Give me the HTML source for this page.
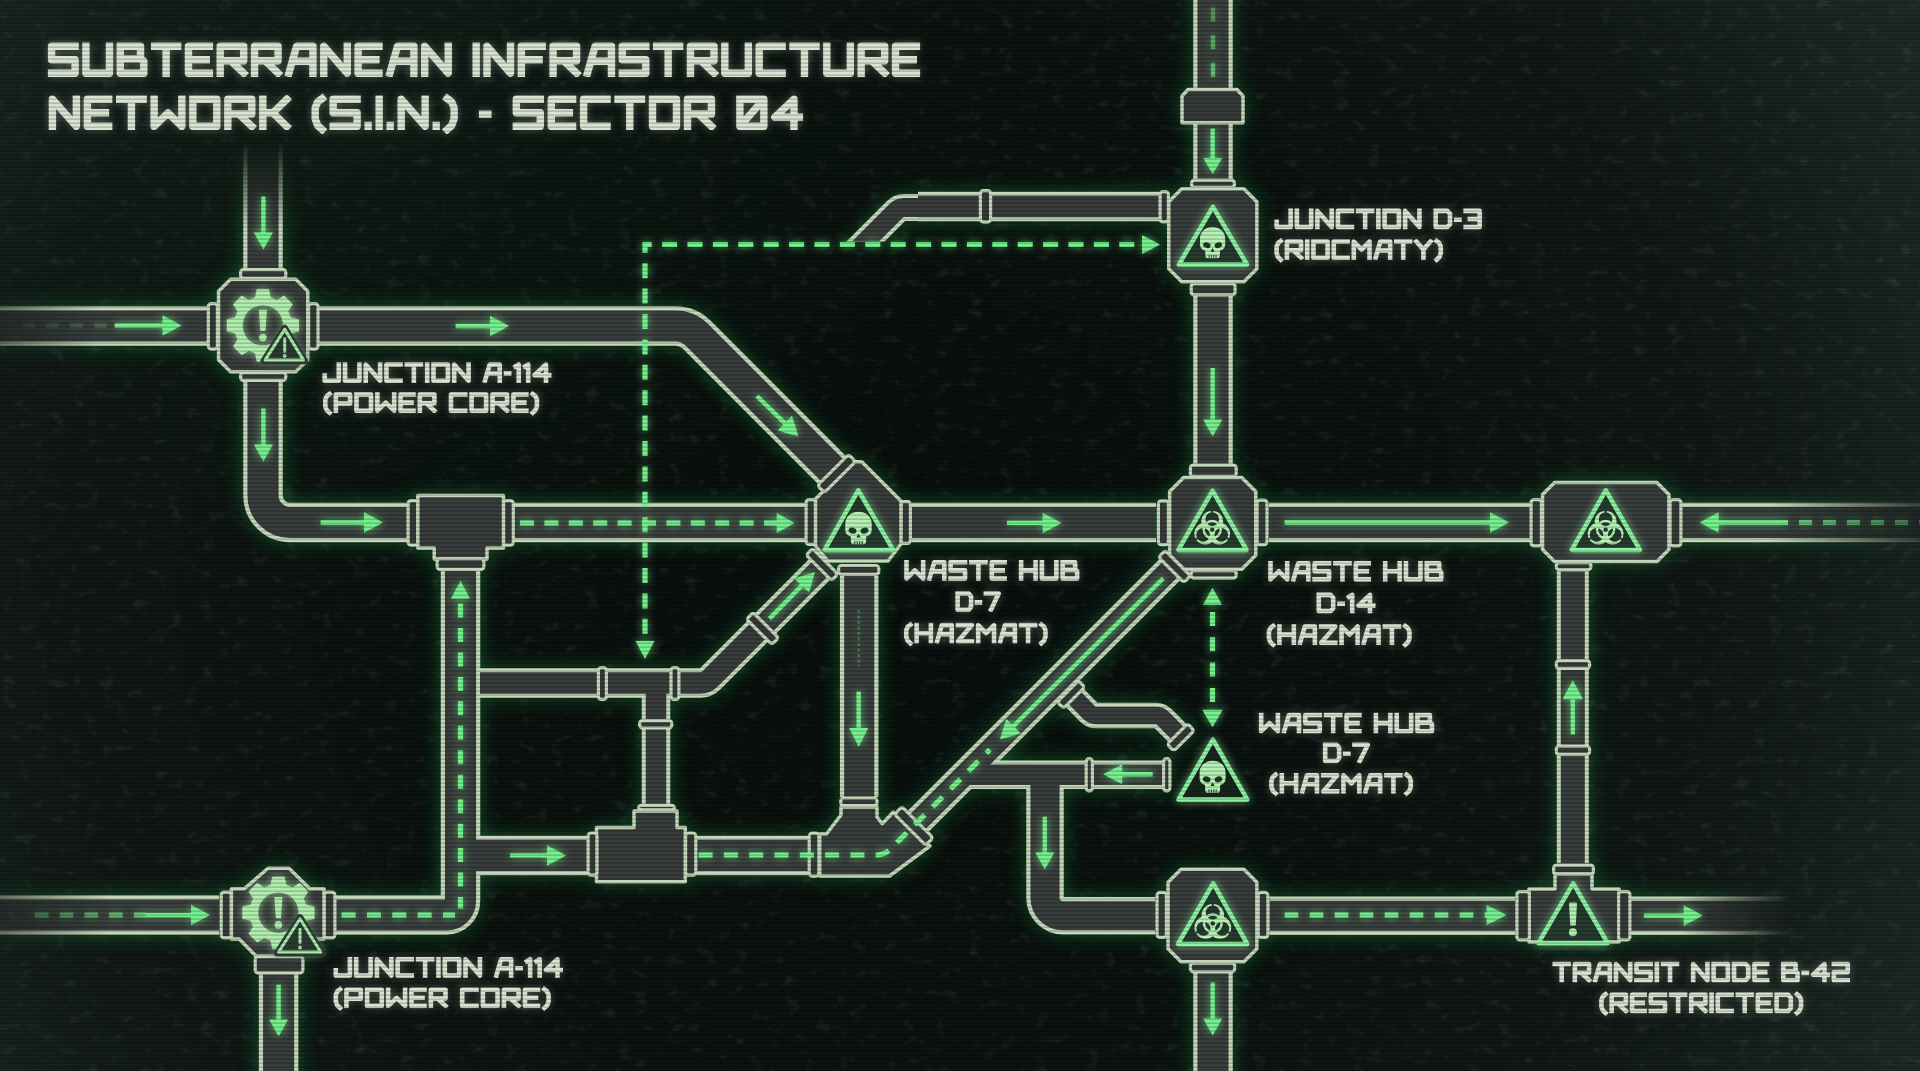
<!DOCTYPE html>
<html><head><meta charset="utf-8"><title>S.I.N. Sector 04</title>
<style>html,body{margin:0;padding:0;background:#0f1613;overflow:hidden;width:1920px;height:1071px}svg{display:block}</style>
</head><body>
<svg width="1920" height="1071" viewBox="0 0 1920 1071">
<defs>
<radialGradient id="bgv" cx="880" cy="560" r="1150" gradientUnits="userSpaceOnUse">
<stop offset="0" stop-color="#090e0c"/><stop offset="0.45" stop-color="#0b120f"/><stop offset="0.75" stop-color="#111916"/><stop offset="1" stop-color="#1e2926"/></radialGradient>
<radialGradient id="tg" cx="420" cy="90" r="520" gradientUnits="userSpaceOnUse"><stop offset="0" stop-color="#1d4a2c" stop-opacity="0.12"/><stop offset="1" stop-color="#1d4a2c" stop-opacity="0"/></radialGradient>
<filter id="pglow" x="-5%" y="-5%" width="110%" height="110%"><feGaussianBlur in="SourceAlpha" stdDeviation="10" result="b"/><feFlood flood-color="#23a84b" flood-opacity="0.42"/><feComposite operator="in" in2="b"/></filter>
<filter id="glow2" x="-20%" y="-20%" width="140%" height="140%"><feGaussianBlur in="SourceGraphic" stdDeviation="4"/></filter>
<filter id="grunge" x="0" y="0" width="100%" height="100%"><feTurbulence type="fractalNoise" baseFrequency="0.06 0.09" numOctaves="3" seed="7"/><feColorMatrix type="matrix" values="0 0 0 0 0.45  0 0 0 0 0.55  0 0 0 0 0.50  0 0 0 3.2 -1.9"/></filter>
<clipPath id="clipTop"><rect x="0" y="0" width="1920" height="241.5"/></clipPath>
<linearGradient id="gl" gradientUnits="userSpaceOnUse" x1="30" y1="0" x2="150" y2="0"><stop offset="0" stop-color="#76ef8e" stop-opacity="0.25"/><stop offset="1" stop-color="#76ef8e" stop-opacity="0.75"/></linearGradient>
<linearGradient id="gr" gradientUnits="userSpaceOnUse" x1="1790" y1="0" x2="1920" y2="0"><stop offset="0" stop-color="#76ef8e" stop-opacity="0.7"/><stop offset="1" stop-color="#76ef8e" stop-opacity="0.3"/></linearGradient>
<linearGradient id="gl2" gradientUnits="userSpaceOnUse" x1="20" y1="0" x2="110" y2="0"><stop offset="0" stop-color="#76ef8e" stop-opacity="0.04"/><stop offset="1" stop-color="#76ef8e" stop-opacity="0.2"/></linearGradient>
<linearGradient id="gt" gradientUnits="userSpaceOnUse" x1="0" y1="0" x2="0" y2="80"><stop offset="0" stop-color="#76ef8e" stop-opacity="0.35"/><stop offset="1" stop-color="#76ef8e" stop-opacity="0.7"/></linearGradient>
<pattern id="scan" width="8" height="4" patternUnits="userSpaceOnUse"><rect width="8" height="1.6" y="2.4" fill="#000"/></pattern>

<linearGradient id="fg0" gradientUnits="userSpaceOnUse" x1="-30" y1="0" x2="100" y2="0"><stop offset="0" stop-color="#000" stop-opacity="0.7"/><stop offset="1" stop-color="#000" stop-opacity="0"/></linearGradient>
<linearGradient id="fg2" gradientUnits="userSpaceOnUse" x1="-30" y1="0" x2="110" y2="0"><stop offset="0" stop-color="#000" stop-opacity="0.7"/><stop offset="1" stop-color="#000" stop-opacity="0"/></linearGradient>
<linearGradient id="fg4" gradientUnits="userSpaceOnUse" x1="0" y1="142" x2="0" y2="228"><stop offset="0" stop-color="#000" stop-opacity="1.0"/><stop offset="1" stop-color="#000" stop-opacity="0"/></linearGradient>
<linearGradient id="fg6" gradientUnits="userSpaceOnUse" x1="1925" y1="0" x2="1770" y2="0"><stop offset="0" stop-color="#000" stop-opacity="0.85"/><stop offset="1" stop-color="#000" stop-opacity="0"/></linearGradient>
<linearGradient id="fg8" gradientUnits="userSpaceOnUse" x1="1792" y1="0" x2="1680" y2="0"><stop offset="0" stop-color="#000" stop-opacity="1.0"/><stop offset="1" stop-color="#000" stop-opacity="0"/></linearGradient>
<clipPath id="tc0"><rect x="318.4" y="361.7" width="237.1" height="21.4"/></clipPath>
<clipPath id="tc1"><rect x="319" y="391.7" width="224.2" height="21.4"/><rect x="321" y="390.2" width="12.8" height="26.8"/><rect x="528.4" y="390.2" width="12.8" height="26.8"/></clipPath>
<clipPath id="tc2"><rect x="1270.4" y="208.1" width="215.5" height="21.4"/></clipPath>
<clipPath id="tc3"><rect x="1270.4" y="238.7" width="176.6" height="21.4"/><rect x="1272.4" y="237.2" width="12.55" height="26.8"/><rect x="1432.45" y="237.2" width="12.55" height="26.8"/></clipPath>
<clipPath id="tc4"><rect x="900.2" y="559.5" width="183.2" height="21.4"/></clipPath>
<clipPath id="tc5"><rect x="951.5" y="590.7" width="53.3" height="21.4"/></clipPath>
<clipPath id="tc6"><rect x="900" y="622.3" width="151.7" height="21.4"/><rect x="902" y="620.8" width="12.63" height="26.8"/><rect x="1037.07" y="620.8" width="12.63" height="26.8"/></clipPath>
<clipPath id="tc7"><rect x="1264.2" y="560.4" width="183.3" height="21.4"/></clipPath>
<clipPath id="tc8"><rect x="1312.5" y="592.1" width="67" height="21.4"/></clipPath>
<clipPath id="tc9"><rect x="1262.7" y="623.7" width="153" height="21.4"/><rect x="1264.7" y="622.2" width="12.71" height="26.8"/><rect x="1400.99" y="622.2" width="12.71" height="26.8"/></clipPath>
<clipPath id="tc10"><rect x="1254.9" y="712.2" width="183.3" height="21.4"/></clipPath>
<clipPath id="tc11"><rect x="1319" y="742" width="55" height="21.4"/></clipPath>
<clipPath id="tc12"><rect x="1265.2" y="772.4" width="151.8" height="21.4"/><rect x="1267.2" y="770.9" width="12.64" height="26.8"/><rect x="1402.36" y="770.9" width="12.64" height="26.8"/></clipPath>
<clipPath id="tc13"><rect x="329.5" y="956.5" width="237.5" height="21.4"/></clipPath>
<clipPath id="tc14"><rect x="329.5" y="986.9" width="225.4" height="21.4"/><rect x="331.5" y="985.4" width="12.85" height="26.8"/><rect x="540.05" y="985.4" width="12.85" height="26.8"/></clipPath>
<clipPath id="tc15"><rect x="1548.5" y="961.2" width="305.5" height="21.4"/></clipPath>
<clipPath id="tc16"><rect x="1595.2" y="992" width="212.1" height="21.4"/><rect x="1597.2" y="990.5" width="12.56" height="26.8"/><rect x="1792.74" y="990.5" width="12.56" height="26.8"/></clipPath>
<clipPath id="tc17"><rect x="44" y="42" width="880" height="35"/></clipPath>
<clipPath id="tc18"><rect x="44.75" y="95.1" width="762.25" height="35"/><rect x="309.55" y="93.6" width="18.21" height="40.4"/><rect x="441.56" y="93.6" width="18.21" height="40.4"/></clipPath>
<mask id="pmask" maskUnits="userSpaceOnUse" x="0" y="0" width="1920" height="1071"><rect width="1920" height="1071" fill="#fff"/><rect x="-30" y="260" width="130" height="132" fill="url(#fg0)"/><rect x="-30" y="850" width="140" height="132" fill="url(#fg2)"/><rect x="215" y="100" width="97" height="130" fill="url(#fg4)"/><rect x="1760" y="460" width="200" height="126" fill="url(#fg6)"/><rect x="1680" y="850" width="220" height="132" fill="url(#fg8)"/></mask>
<g id="gear"><path d="M-7.89 -27.91 L-6.21 -36.07 L6.21 -36.07 L7.89 -27.91 L14.15 -25.31 L21.11 -29.9 L29.9 -21.11 L25.31 -14.15 L27.91 -7.89 L36.07 -6.21 L36.07 6.21 L27.91 7.89 L25.31 14.15 L29.9 21.11 L21.11 29.9 L14.15 25.31 L7.89 27.91 L6.21 36.07 L-6.21 36.07 L-7.89 27.91 L-14.15 25.31 L-21.11 29.9 L-29.9 21.11 L-25.31 14.15 L-27.91 7.89 L-36.07 6.21 L-36.07 -6.21 L-27.91 -7.89 L-25.31 -14.15 L-29.9 -21.11 L-21.11 -29.9 L-14.15 -25.31 Z M20.2 0 A20.2 20.2 0 1 0 -20.2 0 A20.2 20.2 0 1 0 20.2 0 Z" fill="#b2edb0" fill-rule="evenodd"/><path d="M-3.4 -15.1 L3.4 -15.1 L2 5 L-2 5 Z" fill="#b2edb0" stroke="#b2edb0" stroke-width="1.2" stroke-linejoin="round"/><circle cx="0" cy="12.2" r="3.8" fill="#b2edb0"/></g>
<g id="skull"><path d="M-13 12 C-13 4.5 -7 0 0 0 C7 0 13 4.5 13 12 L13 17.5 Q13 22 9.5 23.5 L7.6 24.2 L7.4 30 Q7.2 32 5 32 L-5 32 Q-7.2 32 -7.4 30 L-7.6 24.2 L-9.5 23.5 Q-13 22 -13 17.5 Z" fill="#b6f0b4"/><ellipse cx="-5.9" cy="18.6" rx="3.9" ry="2.9" fill="#233529" transform="rotate(16 -5.9 18.6)"/><ellipse cx="5.9" cy="18.6" rx="3.9" ry="2.9" fill="#233529" transform="rotate(-16 5.9 18.6)"/><path d="M0 21.6 L2.1 25.4 L-2.1 25.4 Z" fill="#233529"/><path d="M-3.6 28.6 V32.2 M-1.2 28.6 V32.2 M1.2 28.6 V32.2 M3.6 28.6 V32.2" stroke="#233529" stroke-width="0.9"/></g>
<mask id="biom" maskUnits="userSpaceOnUse" x="-25" y="-25" width="50" height="50"><circle cx="0" cy="-7.86" r="10.72" fill="#fff"/><circle cx="6.81" cy="3.93" r="10.72" fill="#fff"/><circle cx="-6.81" cy="3.93" r="10.72" fill="#fff"/><circle cx="0" cy="-10.3" r="6.7" fill="#000"/><circle cx="8.92" cy="5.15" r="6.7" fill="#000"/><circle cx="-8.92" cy="5.15" r="6.7" fill="#000"/><rect x="-0.9" y="-20" width="1.8" height="4" fill="#000" transform="rotate(0)"/><rect x="-0.9" y="-20" width="1.8" height="4" fill="#000" transform="rotate(120)"/><rect x="-0.9" y="-20" width="1.8" height="4" fill="#000" transform="rotate(240)"/><circle r="8.4" fill="none" stroke="#fff" stroke-width="2.36"/><circle r="2.15" fill="#000"/></mask>
<g id="bio"><rect x="-22" y="-22" width="44" height="44" fill="#b6f0b4" mask="url(#biom)"/></g>
</defs>
<rect width="1920" height="1071" fill="url(#bgv)"/>
<rect width="1920" height="1071" filter="url(#grunge)" opacity="0.1"/>
<rect width="1920" height="1071" fill="url(#tg)"/>
<g mask="url(#pmask)"><use href="#pipes" filter="url(#pglow)"/>
<g id="pipes">
<g fill="none" stroke="#c4d6bb" stroke-linejoin="round"><path d="M-30 326 L216 326" stroke-width="39.5"/><path d="M263 142 L263 278" stroke-width="39.5"/><path d="M310 326 L675.57 326 A30 30 0 0 1 696.79 334.79 L852 490" stroke-width="39.5"/><path d="M263 373 L263 495.5 A27 27 0 0 0 290 522.5 L806 522.5" stroke-width="39.5"/><path d="M912 522.5 L1156 522.5" stroke-width="39.5"/><path d="M1269 522.5 L1530 522.5" stroke-width="39.5"/><path d="M1682 522.5 L1950 522.5" stroke-width="39.5"/><path d="M1213 -20 L1213 180" stroke-width="39.5"/><path d="M1213 296 L1213 465" stroke-width="39.5"/><path d="M460.5 560 L460.5 901 A14 14 0 0 1 446.5 915 L336 915" stroke-width="39.5"/><path d="M-30 915 L219 915" stroke-width="39.5"/><path d="M278.6 974 L278.6 1100" stroke-width="39.5"/><path d="M460 855.4 L820 855.4" stroke-width="39.5"/><path d="M859.2 576 L859.2 797" stroke-width="38.5"/><path d="M1045 775 L1045 897.8 A18 18 0 0 0 1063 915.8 L1155 915.8" stroke-width="37.5"/><path d="M1213 973 L1213 1100" stroke-width="39.5"/><path d="M1269.5 915.8 L1515 915.8" stroke-width="38.5"/><path d="M1631 915.8 L1792 915.8" stroke-width="38.5"/><path d="M1572.8 571 L1572.8 863" stroke-width="32"/><path d="M1160 206.6 L918 206.6" stroke-width="29.5"/><path d="M920 207.5 L904.47 207.5 A12 12 0 0 0 895.99 211.01 L861.5 245.5 A0 0 0 0 0 861.5 245.5 L851.5 255.5" stroke-width="27" clip-path="url(#clipTop)"/><path d="M480 683 L700.2 683 A14 14 0 0 0 710.1 678.9 L824 565" stroke-width="29.5"/><path d="M656 683 L656 812" stroke-width="28.5"/><path d="M1176 563.5 L884.5 855" stroke-width="29.5"/><path d="M966 774.8 L1171 774.8" stroke-width="28.5"/><path d="M1068 691 L1089.06 712.5 A10 10 0 0 0 1096.2 715.5 L1155.86 715.5 A10 10 0 0 1 1162.93 718.43 L1182 737.5" stroke-width="25.5"/></g>
<g fill="none" stroke="#383d3b" stroke-linejoin="round"><path d="M-30 326 L216 326" stroke-width="31.1"/><path d="M263 142 L263 278" stroke-width="31.1"/><path d="M310 326 L675.57 326 A30 30 0 0 1 696.79 334.79 L852 490" stroke-width="31.1"/><path d="M263 373 L263 495.5 A27 27 0 0 0 290 522.5 L806 522.5" stroke-width="31.1"/><path d="M912 522.5 L1156 522.5" stroke-width="31.1"/><path d="M1269 522.5 L1530 522.5" stroke-width="31.1"/><path d="M1682 522.5 L1950 522.5" stroke-width="31.1"/><path d="M1213 -20 L1213 180" stroke-width="31.1"/><path d="M1213 296 L1213 465" stroke-width="31.1"/><path d="M460.5 560 L460.5 901 A14 14 0 0 1 446.5 915 L336 915" stroke-width="31.1"/><path d="M-30 915 L219 915" stroke-width="31.1"/><path d="M278.6 974 L278.6 1100" stroke-width="31.1"/><path d="M460 855.4 L820 855.4" stroke-width="31.1"/><path d="M859.2 576 L859.2 797" stroke-width="30.1"/><path d="M1045 775 L1045 897.8 A18 18 0 0 0 1063 915.8 L1155 915.8" stroke-width="29.1"/><path d="M1213 973 L1213 1100" stroke-width="31.1"/><path d="M1269.5 915.8 L1515 915.8" stroke-width="30.1"/><path d="M1631 915.8 L1792 915.8" stroke-width="30.1"/><path d="M1572.8 571 L1572.8 863" stroke-width="24"/><path d="M1160 206.6 L918 206.6" stroke-width="21.5"/><path d="M920 207.5 L904.47 207.5 A12 12 0 0 0 895.99 211.01 L861.5 245.5 A0 0 0 0 0 861.5 245.5 L851.5 255.5" stroke-width="19" clip-path="url(#clipTop)"/><path d="M480 683 L700.2 683 A14 14 0 0 0 710.1 678.9 L824 565" stroke-width="21.5"/><path d="M656 683 L656 812" stroke-width="20.5"/><path d="M1176 563.5 L884.5 855" stroke-width="21.5"/><path d="M966 774.8 L1171 774.8" stroke-width="20.5"/><path d="M1068 691 L1089.06 712.5 A10 10 0 0 0 1096.2 715.5 L1155.86 715.5 A10 10 0 0 1 1162.93 718.43 L1182 737.5" stroke-width="17.5"/></g>
<polygon points="1182,96 1188,89.5 1237,89.5 1243,96 1243,122.8 1182,122.8" fill="#353a38" stroke="#c4d6bb" stroke-width="3.5" stroke-linejoin="round"/><rect x="240.6" y="269.6" width="45.2" height="8.8" rx="3" fill="#353a38" stroke="#c4d6bb" stroke-width="3.2"/><rect x="240.6" y="372.6" width="45.2" height="7.8" rx="3" fill="#353a38" stroke="#c4d6bb" stroke-width="3.2"/><rect x="208.3" y="303.6" width="9.1" height="45.5" rx="3" fill="#353a38" stroke="#c4d6bb" stroke-width="3.2"/><rect x="308.6" y="303.6" width="9.4" height="45.5" rx="3" fill="#353a38" stroke="#c4d6bb" stroke-width="3.2"/><polygon points="230.55,279.35 295.75,279.35 307.75,291.35 307.75,359.65 295.75,371.65 230.55,371.65 218.55,359.65 218.55,291.35" fill="#383d3b" stroke="#c4d6bb" stroke-width="3.5" stroke-linejoin="round"/><rect x="1191.6" y="180.1" width="42.8" height="7.3" rx="3" fill="#353a38" stroke="#c4d6bb" stroke-width="3.2"/><rect x="1191.2" y="283.6" width="43.9" height="11.3" rx="3" fill="#353a38" stroke="#c4d6bb" stroke-width="3.2"/><rect x="1160.1" y="191.6" width="8.3" height="30.3" rx="3" fill="#353a38" stroke="#c4d6bb" stroke-width="3.2"/><polygon points="1181.75,188.75 1243.85,188.75 1256.85,201.75 1256.85,268.75 1243.85,281.75 1181.75,281.75 1168.75,268.75 1168.75,201.75" fill="#383d3b" stroke="#c4d6bb" stroke-width="3.5" stroke-linejoin="round"/><rect x="1190.4" y="465.1" width="45.8" height="11.3" rx="3" fill="#353a38" stroke="#c4d6bb" stroke-width="3.2"/><rect x="1191.1" y="570.6" width="45.1" height="7.6" rx="3" fill="#353a38" stroke="#c4d6bb" stroke-width="3.2"/><rect x="1158.4" y="500.8" width="10" height="43.9" rx="3" fill="#353a38" stroke="#c4d6bb" stroke-width="3.2"/><rect x="1257.1" y="500.2" width="9.9" height="44.5" rx="3" fill="#353a38" stroke="#c4d6bb" stroke-width="3.2"/><polygon points="1183.65,477.45 1241.75,477.45 1255.75,491.45 1255.75,555.35 1241.75,569.35 1183.65,569.35 1169.65,555.35 1169.65,491.45" fill="#383d3b" stroke="#c4d6bb" stroke-width="3.5" stroke-linejoin="round"/><rect x="1156.5" y="561.75" width="36" height="9.5" rx="3" fill="#353a38" stroke="#c4d6bb" stroke-width="3.2" transform="rotate(45 1174.5 566.5)"/><rect x="1531.1" y="499.6" width="10.3" height="46.3" rx="3" fill="#353a38" stroke="#c4d6bb" stroke-width="3.2"/><rect x="1670.1" y="499.6" width="10.8" height="46.3" rx="3" fill="#353a38" stroke="#c4d6bb" stroke-width="3.2"/><rect x="1556.3" y="562.6" width="34.6" height="7.2" rx="3" fill="#353a38" stroke="#c4d6bb" stroke-width="3.2"/><polygon points="1554.55,482.45 1656.95,482.45 1668.95,494.45 1668.95,549.55 1656.95,561.55 1554.55,561.55 1542.55,549.55 1542.55,494.45" fill="#383d3b" stroke="#c4d6bb" stroke-width="3.5" stroke-linejoin="round"/><rect x="1157" y="892.4" width="9.4" height="45" rx="3" fill="#353a38" stroke="#c4d6bb" stroke-width="3.2"/><rect x="1258.2" y="892.4" width="9.7" height="45" rx="3" fill="#353a38" stroke="#c4d6bb" stroke-width="3.2"/><rect x="1190.4" y="963.1" width="44.3" height="8.7" rx="3" fill="#353a38" stroke="#c4d6bb" stroke-width="3.2"/><polygon points="1181.05,869.25 1243.85,869.25 1256.85,882.25 1256.85,948.85 1243.85,961.85 1181.05,961.85 1168.05,948.85 1168.05,882.25" fill="#383d3b" stroke="#c4d6bb" stroke-width="3.5" stroke-linejoin="round"/><rect x="1553.6" y="865.1" width="39.8" height="9.3" rx="3" fill="#353a38" stroke="#c4d6bb" stroke-width="3.2"/><polygon points="1555,874 1592,874 1592,889 1619,889 1619,942 1529,942 1529,889 1555,889" fill="#383d3b" stroke="#c4d6bb" stroke-width="3.5" stroke-linejoin="round"/><rect x="1516.9" y="891.6" width="12.5" height="48.3" rx="3" fill="#353a38" stroke="#c4d6bb" stroke-width="3.2"/><rect x="1618.6" y="891.6" width="11.3" height="48.3" rx="3" fill="#353a38" stroke="#c4d6bb" stroke-width="3.2"/><rect x="255.2" y="956.6" width="47.7" height="16.3" rx="3" fill="#353a38" stroke="#c4d6bb" stroke-width="3.2"/><rect x="221.2" y="892.1" width="10.2" height="45.8" rx="3" fill="#353a38" stroke="#c4d6bb" stroke-width="3.2"/><rect x="324.1" y="892.1" width="10.8" height="45.8" rx="3" fill="#353a38" stroke="#c4d6bb" stroke-width="3.2"/><polygon points="268,868.3 289,868.3 309.8,888.7 324,888.7 324,939 310,939 298,956 256,956 239.2,939 231.4,939 231.4,888.7 244.4,888.7" fill="#383d3b" stroke="#c4d6bb" stroke-width="3.5" stroke-linejoin="round"/><rect x="806.1" y="499.6" width="10.3" height="44.8" rx="3" fill="#353a38" stroke="#c4d6bb" stroke-width="3.2"/><rect x="900.6" y="501.6" width="9.8" height="41.8" rx="3" fill="#353a38" stroke="#c4d6bb" stroke-width="3.2"/><rect x="838.6" y="565.5" width="40.2" height="8.9" rx="3" fill="#353a38" stroke="#c4d6bb" stroke-width="3.2"/><polygon points="815.5,546 815.5,499 853,461.5 862,462 901,501 901,544 888,561 828,561" fill="#383d3b" stroke="#c4d6bb" stroke-width="3.5" stroke-linejoin="round"/><rect x="814.5" y="468.5" width="44" height="10" rx="3" fill="#353a38" stroke="#c4d6bb" stroke-width="3.2" transform="rotate(-45 836.5 473.5)"/><rect x="804" y="560" width="36" height="9" rx="3" fill="#353a38" stroke="#c4d6bb" stroke-width="3.2" transform="rotate(45 822 564.5)"/><rect x="408.1" y="500.6" width="10.3" height="44.6" rx="3" fill="#353a38" stroke="#c4d6bb" stroke-width="3.2"/><rect x="503.1" y="500.6" width="10.2" height="44.6" rx="3" fill="#353a38" stroke="#c4d6bb" stroke-width="3.2"/><polygon points="417.8,495.6 503.5,495.6 503.5,548 487,548 487,559 434.2,559 434.2,548 417.8,548" fill="#383d3b" stroke="#c4d6bb" stroke-width="3.5" stroke-linejoin="round"/><rect x="437.1" y="558.6" width="46.8" height="10.8" rx="3" fill="#353a38" stroke="#c4d6bb" stroke-width="3.2"/><rect x="598.4" y="667.6" width="8" height="31.8" rx="3" fill="#353a38" stroke="#c4d6bb" stroke-width="3.2"/><rect x="671" y="667.6" width="7.9" height="31.8" rx="3" fill="#353a38" stroke="#c4d6bb" stroke-width="3.2"/><rect x="639.6" y="720.6" width="32.2" height="7.4" rx="3" fill="#353a38" stroke="#c4d6bb" stroke-width="3.2"/><rect x="638.6" y="805.3" width="35.8" height="4.6" rx="3" fill="#353a38" stroke="#c4d6bb" stroke-width="3.2"/><polygon points="596.5,827.6 634,827.6 634,811 677,811 677,827.6 685.3,827.6 685.3,881.8 596.5,881.8" fill="#383d3b" stroke="#c4d6bb" stroke-width="3.5" stroke-linejoin="round"/><rect x="588.1" y="833" width="8.8" height="42.2" rx="3" fill="#353a38" stroke="#c4d6bb" stroke-width="3.2"/><rect x="685.6" y="833" width="10.2" height="42.2" rx="3" fill="#353a38" stroke="#c4d6bb" stroke-width="3.2"/><rect x="840.8" y="798" width="36.2" height="7.7" rx="3" fill="#353a38" stroke="#c4d6bb" stroke-width="3.2"/><polygon points="819.7,834 826.4,834 841,815 841,807 877,807 877,817 882.2,823.7 893.2,812.2 930,846 889.5,876 819.7,876" fill="#383d3b" stroke="#c4d6bb" stroke-width="3.5" stroke-linejoin="round"/><rect x="809.2" y="833.2" width="9.7" height="42.9" rx="3" fill="#353a38" stroke="#c4d6bb" stroke-width="3.2"/><rect x="891.8" y="820.75" width="44" height="10.5" rx="3" fill="#353a38" stroke="#c4d6bb" stroke-width="3.2" transform="rotate(45 913.8 826)"/><rect x="744.5" y="623.75" width="36" height="9.5" rx="3" fill="#353a38" stroke="#c4d6bb" stroke-width="3.2" transform="rotate(45 762.5 628.5)"/><rect x="1086.2" y="758.6" width="6.2" height="32.3" rx="3" fill="#353a38" stroke="#c4d6bb" stroke-width="3.2"/><rect x="1163.6" y="758.6" width="6.3" height="32.3" rx="3" fill="#353a38" stroke="#c4d6bb" stroke-width="3.2"/><rect x="1056" y="690" width="30" height="9" rx="3" fill="#353a38" stroke="#c4d6bb" stroke-width="3.2" transform="rotate(-45 1071 694.5)"/><rect x="1166.2" y="732.55" width="29" height="9.5" rx="3" fill="#353a38" stroke="#c4d6bb" stroke-width="3.2" transform="rotate(-45 1180.7 737.3)"/><rect x="980.4" y="190.6" width="10.2" height="31.5" rx="3" fill="#353a38" stroke="#c4d6bb" stroke-width="3.2"/><rect x="1556.3" y="660.6" width="33.3" height="7.8" rx="3" fill="#353a38" stroke="#c4d6bb" stroke-width="3.2"/><rect x="1556.3" y="746.2" width="33.3" height="8.2" rx="3" fill="#353a38" stroke="#c4d6bb" stroke-width="3.2"/>
</g></g>
<use href="#grn" filter="url(#glow2)" opacity="0.75"/>
<g id="grn"><path d="M114.7 325.5 L164.5 325.5" stroke="#76ef8e" stroke-width="4.4" fill="none"/><polygon points="181.5,325.5 162.5,335.75 162.5,315.25" fill="#76ef8e"/><path d="M22 325.5 L108 325.5" stroke="url(#gl2)" stroke-width="5.2" fill="none" stroke-dasharray="13 11" stroke-dashoffset="0"/><path d="M455.6 326 L492 326" stroke="#76ef8e" stroke-width="4.4" fill="none"/><polygon points="509,326 490,336.25 490,315.75" fill="#76ef8e"/><path d="M756.9 396 L786.3 424.56" stroke="#76ef8e" stroke-width="4.4" fill="none"/><polygon points="798.5,436.4 777.73,430.52 792.01,415.81" fill="#76ef8e"/><path d="M263.4 196.6 L263.4 234.6" stroke="#76ef8e" stroke-width="4.4" fill="none"/><polygon points="263.4,249.6 253.9,232.6 272.9,232.6" fill="#76ef8e"/><path d="M263.4 408.6 L263.4 446.6" stroke="#76ef8e" stroke-width="4.4" fill="none"/><polygon points="263.4,461.6 253.9,444.6 272.9,444.6" fill="#76ef8e"/><path d="M320.6 522.5 L366 522.5" stroke="#76ef8e" stroke-width="4.4" fill="none"/><polygon points="383,522.5 364,532.75 364,512.25" fill="#76ef8e"/><path d="M1007 522.9 L1044.6 522.9" stroke="#76ef8e" stroke-width="4.4" fill="none"/><polygon points="1061.6,522.9 1042.6,533.15 1042.6,512.65" fill="#76ef8e"/><path d="M1284.6 522.5 L1492 522.5" stroke="#76ef8e" stroke-width="4.4" fill="none"/><polygon points="1509,522.5 1490,532.75 1490,512.25" fill="#76ef8e"/><path d="M1788 522.5 L1716.6 522.5" stroke="#76ef8e" stroke-width="4.4" fill="none"/><polygon points="1699.6,522.5 1718.6,512.25 1718.6,532.75" fill="#76ef8e"/><path d="M1212.7 128.6 L1212.7 160" stroke="#76ef8e" stroke-width="4.4" fill="none"/><polygon points="1212.7,174 1203.2,158 1222.2,158" fill="#76ef8e"/><path d="M1212.7 368 L1212.7 421.4" stroke="#76ef8e" stroke-width="4.4" fill="none"/><polygon points="1212.7,436.4 1203.2,419.4 1222.2,419.4" fill="#76ef8e"/><path d="M769.5 618.6 L803.12 584.16" stroke="#76ef8e" stroke-width="4.4" fill="none"/><polygon points="815,572 809.06,592.76 794.39,578.43" fill="#76ef8e"/><path d="M858.7 691.5 L858.7 730" stroke="#76ef8e" stroke-width="4.4" fill="none"/><polygon points="858.7,747 849.2,728 868.2,728" fill="#76ef8e"/><path d="M1163.3 578.3 L1012.01 727.46" stroke="#76ef8e" stroke-width="4.4" fill="none"/><polygon points="999.9,739.4 1006.23,718.76 1020.63,733.36" fill="#76ef8e"/><path d="M1152.7 774.3 L1120.2 774.3" stroke="#76ef8e" stroke-width="4.4" fill="none"/><polygon points="1103.2,774.3 1122.2,764.3 1122.2,784.3" fill="#76ef8e"/><path d="M1044.8 816.7 L1044.8 854.6" stroke="#76ef8e" stroke-width="4.4" fill="none"/><polygon points="1044.8,869.6 1035.3,852.6 1054.3,852.6" fill="#76ef8e"/><path d="M1212.7 982.4 L1212.7 1020.4" stroke="#76ef8e" stroke-width="4.4" fill="none"/><polygon points="1212.7,1035.4 1203.2,1018.4 1222.2,1018.4" fill="#76ef8e"/><path d="M1643.9 915.6 L1685.7 915.6" stroke="#76ef8e" stroke-width="4.4" fill="none"/><polygon points="1702.7,915.6 1683.7,925.85 1683.7,905.35" fill="#76ef8e"/><path d="M1572.8 734.5 L1572.8 697.3" stroke="#76ef8e" stroke-width="4.4" fill="none"/><polygon points="1572.8,680.3 1583.05,699.3 1562.55,699.3" fill="#76ef8e"/><path d="M145.5 915.1 L193 915.1" stroke="#76ef8e" stroke-width="4.4" fill="none"/><polygon points="210,915.1 191,925.35 191,904.85" fill="#76ef8e"/><path d="M278.6 984.7 L278.6 1021.6" stroke="#76ef8e" stroke-width="4.4" fill="none"/><polygon points="278.6,1036.6 269.1,1019.6 288.1,1019.6" fill="#76ef8e"/><path d="M510 855.4 L549 855.4" stroke="#76ef8e" stroke-width="4.4" fill="none"/><polygon points="566,855.4 547,865.65 547,845.15" fill="#76ef8e"/><path d="M645 652 L645 244.5 L1148 244.5" stroke="#76ef8e" stroke-width="5.2" fill="none" stroke-dasharray="15 10.4" stroke-dashoffset="7.2"/><polygon points="1160,244.5 1142,254 1142,235" fill="#76ef8e"/><polygon points="645,659 635.5,641 654.5,641" fill="#76ef8e"/><path d="M520 523 L779 523" stroke="#76ef8e" stroke-width="5.2" fill="none" stroke-dasharray="14 10.4" stroke-dashoffset="0"/><polygon points="794.7,523 776.7,533 776.7,513" fill="#76ef8e"/><path d="M341.6 915 L455 915" stroke="#76ef8e" stroke-width="5.2" fill="none" stroke-dasharray="14 11.35" stroke-dashoffset="0"/><path d="M460.5 603.5 L460.5 908.5" stroke="#76ef8e" stroke-width="5.2" fill="none" stroke-dasharray="14 10.46" stroke-dashoffset="0"/><polygon points="460.5,580.8 470,598.8 451,598.8" fill="#76ef8e"/><path d="M1212.5 604 L1212.5 709" stroke="#76ef8e" stroke-width="5.2" fill="none" stroke-dasharray="14 11.3" stroke-dashoffset="-8"/><polygon points="1212.5,587.8 1222,604.8 1203,604.8" fill="#76ef8e"/><polygon points="1212.5,727.2 1202.25,709.7 1222.75,709.7" fill="#76ef8e"/><path d="M698.6 855 L876.22 855 A20 20 0 0 0 890.36 849.14 L990 749.5" stroke="#76ef8e" stroke-width="5.2" fill="none" stroke-dasharray="14 11.3" stroke-dashoffset="0"/><path d="M1284.7 915 L1490 915" stroke="#76ef8e" stroke-width="5.2" fill="none" stroke-dasharray="13.6 11.4" stroke-dashoffset="0"/><polygon points="1506.6,915 1486.6,925 1486.6,905" fill="#76ef8e"/><path d="M1213 -5 L1213 80" stroke="url(#gt)" stroke-width="4.4" fill="none" stroke-dasharray="14 13.6" stroke-dashoffset="-12.5"/><path d="M858.7 610 L858.7 666" stroke="#5fd07a" stroke-width="2.2" fill="none" stroke-dasharray="3 2.5" stroke-dashoffset="0" opacity="0.45"/><path d="M35 915 L146 915" stroke="url(#gl)" stroke-width="5.2" fill="none" stroke-dasharray="13.5 11.2" stroke-dashoffset="0"/><path d="M1799 522.5 L1920 522.5" stroke="url(#gr)" stroke-width="5.2" fill="none" stroke-dasharray="13 11" stroke-dashoffset="0"/><use href="#gear" transform="translate(262.9 325.4)"/><polygon points="284.7,327.9 263.7,361.1 304.9,361.1" fill="#2c3a32" stroke="#363c3a" stroke-width="6.5" stroke-linejoin="round"/><polygon points="284.7,329.4 265.2,359.9 303.4,359.9" fill="none" stroke="#a6eea8" stroke-width="3" stroke-linejoin="round"/><path d="M284.7 338.86 L284.7 351.14" stroke="#a6eea8" stroke-width="3" stroke-linecap="round"/><circle cx="284.7" cy="355.79" r="1.9" fill="#a6eea8"/><use href="#gear" transform="translate(278.4 912.7)"/><polygon points="300,917.3 277.1,953.2 322.2,953.2" fill="#2c3a32" stroke="#363c3a" stroke-width="6.5" stroke-linejoin="round"/><polygon points="300,918.8 278.6,952 320.7,952" fill="none" stroke="#a6eea8" stroke-width="3" stroke-linejoin="round"/><path d="M300 929.15 L300 942.43" stroke="#a6eea8" stroke-width="3" stroke-linecap="round"/><circle cx="300" cy="947.46" r="1.9" fill="#a6eea8"/><polygon points="1212.9,206.9 1178.9,264.5 1247,264.5" fill="#263a2e" stroke="#8ef0a2" stroke-width="4.5" stroke-linejoin="round"/><use href="#skull" transform="translate(1212.6 227.1) scale(0.97)"/><polygon points="858.3,490.4 824.7,549.9 893.1,549.9" fill="#263a2e" stroke="#8ef0a2" stroke-width="4.5" stroke-linejoin="round"/><use href="#skull" transform="translate(858.5 511.7) scale(1.02)"/><polygon points="1212.6,490.8 1178.4,549.9 1246.5,549.9" fill="#263a2e" stroke="#8ef0a2" stroke-width="4.5" stroke-linejoin="round"/><use href="#bio" transform="translate(1212.2 529.6) scale(1.02)"/><polygon points="1605.8,490.4 1571.8,549.9 1639.8,549.9" fill="#263a2e" stroke="#8ef0a2" stroke-width="4.5" stroke-linejoin="round"/><use href="#bio" transform="translate(1605.6 529.6) scale(1.02)"/><polygon points="1212.9,739.7 1178.5,799.5 1247.3,799.5" fill="#17251c" stroke="#8ef0a2" stroke-width="4.5" stroke-linejoin="round"/><use href="#skull" transform="translate(1212.6 760.7) scale(1)"/><polygon points="1213.2,883.3 1178,943.9 1247.2,943.9" fill="#263a2e" stroke="#8ef0a2" stroke-width="4.5" stroke-linejoin="round"/><use href="#bio" transform="translate(1212.8 923.4) scale(1.05)"/><polygon points="1573.2,883.3 1538.4,943.1 1607.6,943.1" fill="#263a2e" stroke="#8ef0a2" stroke-width="4.5" stroke-linejoin="round"/><path d="M1569.9 903.4 L1576.1 903.4 L1574.9 924.6 L1571.1 924.6 Z" fill="#b2edb0" stroke="#b2edb0" stroke-width="1.8" stroke-linejoin="round"/><circle cx="1572.9" cy="932.2" r="4" fill="#b2edb0"/></g>
<use href="#txt" filter="url(#glow2)" opacity="0.35"/>
<g id="txt" fill="none" stroke="#d9e3d1" stroke-linejoin="round" stroke-linecap="square"><path d="M338.76 364.50 L338.76 380.70 L324.67 380.70 L324.67 375.52 M345.05 364.50 L345.05 380.70 L359.45 380.70 L359.45 364.50 M365.74 380.70 L365.74 364.50 L380.15 380.70 L380.15 364.50 M400.53 364.50 L386.44 364.50 L386.44 380.70 L400.53 380.70 M406.82 364.50 L420.90 364.50 M413.86 364.50 L413.86 380.70 M427.19 364.50 L427.19 380.70 M433.48 364.50 L447.89 364.50 L447.89 380.70 L433.48 380.70 L433.48 364.50 M454.18 380.70 L454.18 364.50 L468.59 380.70 L468.59 364.50 M485.01 380.70 L489.72 364.50 L499.73 364.50 L499.73 380.70 M487.37 373.57 L499.73 373.57 M506.03 373.41 L509.23 373.41 M515.52 366.44 L518.72 364.50 L518.72 380.70 M525.01 366.44 L528.21 364.50 L528.21 380.70 M545.99 380.70 L545.99 364.50 L534.50 375.19 L549.23 375.19" stroke-width="4.6" clip-path="url(#tc0)"/><path d="M329.50 394.01 L326.77 396.12 L325.30 399.68 L325.30 406.16 L326.77 410.21 L329.50 412.64 M335.86 410.70 L335.86 394.50 L350.09 394.50 L350.09 403.57 L335.86 403.57 M356.45 394.50 L371.00 394.50 L371.00 410.70 L356.45 410.70 L356.45 394.50 M377.36 394.50 L377.36 410.70 L385.77 402.60 L394.18 410.70 L394.18 394.50 M413.48 394.50 L400.54 394.50 L400.54 410.70 L413.48 410.70 M400.54 402.60 L411.54 402.60 M419.83 410.70 L419.83 394.50 L434.39 394.50 L434.39 403.25 L426.38 403.25 L434.39 410.70 M426.38 403.25 L419.83 403.25 M465.22 394.50 L450.99 394.50 L450.99 410.70 L465.22 410.70 M471.58 394.50 L486.13 394.50 L486.13 410.70 L471.58 410.70 L471.58 394.50 M492.49 410.70 L492.49 394.50 L507.05 394.50 L507.05 403.25 L499.04 403.25 L507.05 410.70 M499.04 403.25 L492.49 403.25 M526.34 394.50 L513.40 394.50 L513.40 410.70 L526.34 410.70 M513.40 402.60 L524.40 402.60 M532.70 394.01 L535.43 396.12 L536.90 399.68 L536.90 406.16 L535.43 410.21 L532.70 412.64" stroke-width="4.6" clip-path="url(#tc1)"/><path d="M1290.63 210.90 L1290.63 227.10 L1276.65 227.10 L1276.65 221.92 M1296.87 210.90 L1296.87 227.10 L1311.16 227.10 L1311.16 210.90 M1317.40 227.10 L1317.40 210.90 L1331.69 227.10 L1331.69 210.90 M1351.91 210.90 L1337.93 210.90 L1337.93 227.10 L1351.91 227.10 M1358.15 210.90 L1372.12 210.90 M1365.14 210.90 L1365.14 227.10 M1378.36 210.90 L1378.36 227.10 M1384.61 210.90 L1398.90 210.90 L1398.90 227.10 L1384.61 227.10 L1384.61 210.90 M1405.14 227.10 L1405.14 210.90 L1419.43 227.10 L1419.43 210.90 M1435.72 210.90 L1447.44 210.90 L1450.01 213.82 L1450.01 224.18 L1447.44 227.10 L1435.72 227.10 L1435.72 210.90 M1456.26 219.81 L1459.43 219.81 M1465.67 210.90 L1479.65 210.90 L1479.65 227.10 L1465.67 227.10 M1469.86 219.00 L1479.65 219.00" stroke-width="4.6" clip-path="url(#tc2)"/><path d="M1280.72 241.01 L1278.06 243.12 L1276.63 246.68 L1276.63 253.16 L1278.06 257.21 L1280.72 259.64 M1286.90 257.70 L1286.90 241.50 L1301.05 241.50 L1301.05 250.25 L1293.27 250.25 L1301.05 257.70 M1293.27 250.25 L1286.90 250.25 M1307.24 241.50 L1307.24 257.70 M1313.42 241.50 L1327.57 241.50 L1327.57 257.70 L1313.42 257.70 L1313.42 241.50 M1347.59 241.50 L1333.75 241.50 L1333.75 257.70 L1347.59 257.70 M1353.77 257.70 L1353.77 241.50 L1361.63 249.60 L1369.50 241.50 L1369.50 257.70 M1375.68 257.70 L1380.31 241.50 L1390.14 241.50 L1390.14 257.70 M1377.99 250.57 L1390.14 250.57 M1396.33 241.50 L1410.16 241.50 M1403.24 241.50 L1403.24 257.70 M1416.35 241.50 L1423.42 249.60 L1430.50 241.50 M1423.42 249.60 L1423.42 257.70 M1436.68 241.01 L1439.34 243.12 L1440.77 246.68 L1440.77 253.16 L1439.34 257.21 L1436.68 259.64" stroke-width="4.6" clip-path="url(#tc3)"/><path d="M906.48 562.30 L906.48 578.50 L914.83 570.40 L923.18 578.50 L923.18 562.30 M929.50 578.50 L934.22 562.30 L944.27 562.30 L944.27 578.50 M931.86 571.37 L944.27 571.37 M965.04 562.30 L950.59 562.30 L950.59 570.40 L965.04 570.40 L965.04 578.50 L950.59 578.50 M971.35 562.30 L985.49 562.30 M978.42 562.30 L978.42 578.50 M1004.65 562.30 L991.80 562.30 L991.80 578.50 L1004.65 578.50 M991.80 570.40 L1002.72 570.40 M1021.13 562.30 L1021.13 578.50 M1035.58 562.30 L1035.58 578.50 M1021.13 570.40 L1035.58 570.40 M1041.90 562.30 L1041.90 578.50 L1056.35 578.50 L1056.35 562.30 M1062.67 562.30 L1075.10 562.30 L1075.10 569.91 L1062.67 569.91 M1075.10 569.91 L1077.12 571.21 L1077.12 578.50 L1062.67 578.50 L1062.67 562.30" stroke-width="4.6" clip-path="url(#tc4)"/><path d="M957.62 593.50 L968.66 593.50 L971.08 596.42 L971.08 606.78 L968.66 609.70 L957.62 609.70 L957.62 593.50 M976.95 602.41 L979.94 602.41 M985.82 593.50 L998.68 593.50 L990.96 609.70" stroke-width="4.6" clip-path="url(#tc5)"/><path d="M910.38 624.61 L907.70 626.72 L906.25 630.28 L906.25 636.76 L907.70 640.81 L910.38 643.24 M916.62 625.10 L916.62 641.30 M930.90 625.10 L930.90 641.30 M916.62 633.20 L930.90 633.20 M937.14 641.30 L941.81 625.10 L951.74 625.10 L951.74 641.30 M939.47 634.17 L951.74 634.17 M957.97 625.10 L971.94 625.10 L957.97 641.30 L971.94 641.30 M978.18 641.30 L978.18 625.10 L986.11 633.20 L994.04 625.10 L994.04 641.30 M1000.28 641.30 L1004.95 625.10 L1014.88 625.10 L1014.88 641.30 M1002.62 634.17 L1014.88 634.17 M1021.12 625.10 L1035.08 625.10 M1028.10 625.10 L1028.10 641.30 M1041.32 624.61 L1044.00 626.72 L1045.45 630.28 L1045.45 636.76 L1044.00 640.81 L1041.32 643.24" stroke-width="4.6" clip-path="url(#tc6)"/><path d="M1270.48 563.20 L1270.48 579.40 L1278.84 571.30 L1287.19 579.40 L1287.19 563.20 M1293.51 579.40 L1298.24 563.20 L1308.30 563.20 L1308.30 579.40 M1295.88 572.27 L1308.30 572.27 M1329.07 563.20 L1314.61 563.20 L1314.61 571.30 L1329.07 571.30 L1329.07 579.40 L1314.61 579.40 M1335.39 563.20 L1349.53 563.20 M1342.46 563.20 L1342.46 579.40 M1368.71 563.20 L1355.85 563.20 L1355.85 579.40 L1368.71 579.40 M1355.85 571.30 L1366.78 571.30 M1385.20 563.20 L1385.20 579.40 M1399.66 563.20 L1399.66 579.40 M1385.20 571.30 L1399.66 571.30 M1405.98 563.20 L1405.98 579.40 L1420.44 579.40 L1420.44 563.20 M1426.76 563.20 L1439.19 563.20 L1439.19 570.81 L1426.76 570.81 M1439.19 570.81 L1441.22 572.11 L1441.22 579.40 L1426.76 579.40 L1426.76 563.20" stroke-width="4.6" clip-path="url(#tc7)"/><path d="M1318.77 594.90 L1330.60 594.90 L1333.19 597.82 L1333.19 608.18 L1330.60 611.10 L1318.77 611.10 L1318.77 594.90 M1339.49 603.81 L1342.69 603.81 M1348.99 596.84 L1352.19 594.90 L1352.19 611.10 M1369.98 611.10 L1369.98 594.90 L1358.49 605.59 L1373.23 605.59" stroke-width="4.6" clip-path="url(#tc8)"/><path d="M1273.14 626.01 L1270.43 628.12 L1268.97 631.68 L1268.97 638.16 L1270.43 642.21 L1273.14 644.64 M1279.43 626.50 L1279.43 642.70 M1293.84 626.50 L1293.84 642.70 M1279.43 634.60 L1293.84 634.60 M1300.14 642.70 L1304.85 626.50 L1314.87 626.50 L1314.87 642.70 M1302.49 635.57 L1314.87 635.57 M1321.16 626.50 L1335.25 626.50 L1321.16 642.70 L1335.25 642.70 M1341.55 642.70 L1341.55 626.50 L1349.55 634.60 L1357.56 626.50 L1357.56 642.70 M1363.85 642.70 L1368.57 626.50 L1378.58 626.50 L1378.58 642.70 M1366.21 635.57 L1378.58 635.57 M1384.88 626.50 L1398.97 626.50 M1391.92 626.50 L1391.92 642.70 M1405.26 626.01 L1407.97 628.12 L1409.43 631.68 L1409.43 638.16 L1407.97 642.21 L1405.26 644.64" stroke-width="4.6" clip-path="url(#tc9)"/><path d="M1261.18 715.00 L1261.18 731.20 L1269.54 723.10 L1277.89 731.20 L1277.89 715.00 M1284.21 731.20 L1288.94 715.00 L1299.00 715.00 L1299.00 731.20 M1286.58 724.07 L1299.00 724.07 M1319.77 715.00 L1305.31 715.00 L1305.31 723.10 L1319.77 723.10 L1319.77 731.20 L1305.31 731.20 M1326.09 715.00 L1340.23 715.00 M1333.16 715.00 L1333.16 731.20 M1359.41 715.00 L1346.55 715.00 L1346.55 731.20 L1359.41 731.20 M1346.55 723.10 L1357.48 723.10 M1375.90 715.00 L1375.90 731.20 M1390.36 715.00 L1390.36 731.20 M1375.90 723.10 L1390.36 723.10 M1396.68 715.00 L1396.68 731.20 L1411.14 731.20 L1411.14 715.00 M1417.46 715.00 L1429.89 715.00 L1429.89 722.61 L1417.46 722.61 M1429.89 722.61 L1431.92 723.91 L1431.92 731.20 L1417.46 731.20 L1417.46 715.00" stroke-width="4.6" clip-path="url(#tc10)"/><path d="M1325.20 744.80 L1336.65 744.80 L1339.16 747.72 L1339.16 758.08 L1336.65 761.00 L1325.20 761.00 L1325.20 744.80 M1345.26 753.71 L1348.36 753.71 M1354.46 744.80 L1367.80 744.80 L1359.79 761.00" stroke-width="4.6" clip-path="url(#tc11)"/><path d="M1275.58 774.71 L1272.90 776.82 L1271.45 780.38 L1271.45 786.86 L1272.90 790.91 L1275.58 793.34 M1281.83 775.20 L1281.83 791.40 M1296.12 775.20 L1296.12 791.40 M1281.83 783.30 L1296.12 783.30 M1302.36 791.40 L1307.03 775.20 L1316.97 775.20 L1316.97 791.40 M1304.70 784.27 L1316.97 784.27 M1323.21 775.20 L1337.18 775.20 L1323.21 791.40 L1337.18 791.40 M1343.43 791.40 L1343.43 775.20 L1351.37 783.30 L1359.31 775.20 L1359.31 791.40 M1365.55 791.40 L1370.22 775.20 L1380.16 775.20 L1380.16 791.40 M1367.89 784.27 L1380.16 784.27 M1386.40 775.20 L1400.37 775.20 M1393.39 775.20 L1393.39 791.40 M1406.62 774.71 L1409.30 776.82 L1410.75 780.38 L1410.75 786.86 L1409.30 790.91 L1406.62 793.34" stroke-width="4.6" clip-path="url(#tc12)"/><path d="M349.89 959.30 L349.89 975.50 L335.78 975.50 L335.78 970.32 M356.19 959.30 L356.19 975.50 L370.62 975.50 L370.62 959.30 M376.92 975.50 L376.92 959.30 L391.35 975.50 L391.35 959.30 M411.76 959.30 L397.65 959.30 L397.65 975.50 L411.76 975.50 M418.06 959.30 L432.17 959.30 M425.12 959.30 L425.12 975.50 M438.48 959.30 L438.48 975.50 M444.78 959.30 L459.21 959.30 L459.21 975.50 L444.78 975.50 L444.78 959.30 M465.51 975.50 L465.51 959.30 L479.94 975.50 L479.94 959.30 M496.39 975.50 L501.11 959.30 L511.14 959.30 L511.14 975.50 M498.75 968.37 L511.14 968.37 M517.45 968.21 L520.65 968.21 M526.96 961.24 L530.16 959.30 L530.16 975.50 M536.46 961.24 L539.67 959.30 L539.67 975.50 M557.48 975.50 L557.48 959.30 L545.97 969.99 L560.72 969.99" stroke-width="4.6" clip-path="url(#tc13)"/><path d="M340.04 989.21 L337.29 991.32 L335.81 994.88 L335.81 1001.36 L337.29 1005.41 L340.04 1007.84 M346.43 1005.90 L346.43 989.70 L360.74 989.70 L360.74 998.77 L346.43 998.77 M367.13 989.70 L381.77 989.70 L381.77 1005.90 L367.13 1005.90 L367.13 989.70 M388.16 989.70 L388.16 1005.90 L396.62 997.80 L405.08 1005.90 L405.08 989.70 M424.48 989.70 L411.47 989.70 L411.47 1005.90 L424.48 1005.90 M411.47 997.80 L422.53 997.80 M430.87 1005.90 L430.87 989.70 L445.51 989.70 L445.51 998.45 L437.46 998.45 L445.51 1005.90 M437.46 998.45 L430.87 998.45 M476.51 989.70 L462.20 989.70 L462.20 1005.90 L476.51 1005.90 M482.90 989.70 L497.54 989.70 L497.54 1005.90 L482.90 1005.90 L482.90 989.70 M503.93 1005.90 L503.93 989.70 L518.57 989.70 L518.57 998.45 L510.52 998.45 L518.57 1005.90 M510.52 998.45 L503.93 998.45 M537.97 989.70 L524.96 989.70 L524.96 1005.90 L537.97 1005.90 M524.96 997.80 L536.02 997.80 M544.36 989.21 L547.11 991.32 L548.59 994.88 L548.59 1001.36 L547.11 1005.41 L544.36 1007.84" stroke-width="4.6" clip-path="url(#tc14)"/><path d="M1554.74 964.00 L1568.64 964.00 M1561.69 964.00 L1561.69 980.20 M1574.85 980.20 L1574.85 964.00 L1589.07 964.00 L1589.07 972.75 L1581.25 972.75 L1589.07 980.20 M1581.25 972.75 L1574.85 972.75 M1595.28 980.20 L1599.93 964.00 L1609.81 964.00 L1609.81 980.20 M1597.60 973.07 L1609.81 973.07 M1616.02 980.20 L1616.02 964.00 L1630.24 980.20 L1630.24 964.00 M1650.66 964.00 L1636.45 964.00 L1636.45 972.10 L1650.66 972.10 L1650.66 980.20 L1636.45 980.20 M1656.87 964.00 L1656.87 980.20 M1663.08 964.00 L1676.98 964.00 M1670.03 964.00 L1670.03 980.20 M1693.19 980.20 L1693.19 964.00 L1707.41 980.20 L1707.41 964.00 M1713.62 964.00 L1727.84 964.00 L1727.84 980.20 L1713.62 980.20 L1713.62 964.00 M1734.05 964.00 L1745.70 964.00 L1748.26 966.92 L1748.26 977.28 L1745.70 980.20 L1734.05 980.20 L1734.05 964.00 M1767.11 964.00 L1754.47 964.00 L1754.47 980.20 L1767.11 980.20 M1754.47 972.10 L1765.21 972.10 M1783.32 964.00 L1795.55 964.00 L1795.55 971.61 L1783.32 971.61 M1795.55 971.61 L1797.54 972.91 L1797.54 980.20 L1783.32 980.20 L1783.32 964.00 M1803.75 972.91 L1806.90 972.91 M1824.45 980.20 L1824.45 964.00 L1813.11 974.69 L1827.65 974.69 M1833.86 964.00 L1847.76 964.00 L1847.76 972.10 L1833.86 972.10 L1833.86 980.20 L1847.76 980.20" stroke-width="4.6" clip-path="url(#tc15)"/><path d="M1605.53 994.31 L1602.87 996.42 L1601.43 999.98 L1601.43 1006.46 L1602.87 1010.51 L1605.53 1012.94 M1611.71 1011.00 L1611.71 994.80 L1625.88 994.80 L1625.88 1003.55 L1618.09 1003.55 L1625.88 1011.00 M1618.09 1003.55 L1611.71 1003.55 M1644.66 994.80 L1632.07 994.80 L1632.07 1011.00 L1644.66 1011.00 M1632.07 1002.90 L1642.77 1002.90 M1665.01 994.80 L1650.84 994.80 L1650.84 1002.90 L1665.01 1002.90 L1665.01 1011.00 L1650.84 1011.00 M1671.19 994.80 L1685.04 994.80 M1678.12 994.80 L1678.12 1011.00 M1691.23 1011.00 L1691.23 994.80 L1705.40 994.80 L1705.40 1003.55 L1697.61 1003.55 L1705.40 1011.00 M1697.61 1003.55 L1691.23 1003.55 M1711.58 994.80 L1711.58 1011.00 M1731.62 994.80 L1717.77 994.80 L1717.77 1011.00 L1731.62 1011.00 M1737.81 994.80 L1751.66 994.80 M1744.73 994.80 L1744.73 1011.00 M1770.43 994.80 L1757.84 994.80 L1757.84 1011.00 L1770.43 1011.00 M1757.84 1002.90 L1768.55 1002.90 M1776.62 994.80 L1788.24 994.80 L1790.79 997.72 L1790.79 1008.08 L1788.24 1011.00 L1776.62 1011.00 L1776.62 994.80 M1796.97 994.31 L1799.63 996.42 L1801.07 999.98 L1801.07 1006.46 L1799.63 1010.51 L1796.97 1012.94" stroke-width="4.6" clip-path="url(#tc16)"/><path d="M75.10 46.20 L51.58 46.20 L51.58 59.70 L75.10 59.70 L75.10 73.20 L51.58 73.20 M85.93 46.20 L85.93 73.20 L109.45 73.20 L109.45 46.20 M120.28 46.20 L140.51 46.20 L140.51 58.89 L120.28 58.89 M140.51 58.89 L143.80 61.05 L143.80 73.20 L120.28 73.20 L120.28 46.20 M154.63 46.20 L177.63 46.20 M166.13 46.20 L166.13 73.20 M209.36 46.20 L188.45 46.20 L188.45 73.20 L209.36 73.20 M188.45 59.70 L206.23 59.70 M220.19 73.20 L220.19 46.20 L243.71 46.20 L243.71 60.78 L230.77 60.78 L243.71 73.20 M230.77 60.78 L220.19 60.78 M254.54 73.20 L254.54 46.20 L278.06 46.20 L278.06 60.78 L265.12 60.78 L278.06 73.20 M265.12 60.78 L254.54 60.78 M288.89 73.20 L296.58 46.20 L312.93 46.20 L312.93 73.20 M292.73 61.32 L312.93 61.32 M323.76 73.20 L323.76 46.20 L347.28 73.20 L347.28 46.20 M379.01 46.20 L358.11 46.20 L358.11 73.20 L379.01 73.20 M358.11 59.70 L375.88 59.70 M389.84 73.20 L397.53 46.20 L413.89 46.20 L413.89 73.20 M393.69 61.32 L413.89 61.32 M424.71 73.20 L424.71 46.20 L448.23 73.20 L448.23 46.20 M476.16 46.20 L476.16 73.20 M486.99 73.20 L486.99 46.20 L510.51 73.20 L510.51 46.20 M542.24 46.20 L521.33 46.20 L521.33 73.20 M521.33 59.70 L539.11 59.70 M553.07 73.20 L553.07 46.20 L576.59 46.20 L576.59 60.78 L563.65 60.78 L576.59 73.20 M563.65 60.78 L553.07 60.78 M587.42 73.20 L595.11 46.20 L611.46 46.20 L611.46 73.20 M591.26 61.32 L611.46 61.32 M645.81 46.20 L622.29 46.20 L622.29 59.70 L645.81 59.70 L645.81 73.20 L622.29 73.20 M656.64 46.20 L679.64 46.20 M668.14 46.20 L668.14 73.20 M690.46 73.20 L690.46 46.20 L713.99 46.20 L713.99 60.78 L701.05 60.78 L713.99 73.20 M701.05 60.78 L690.46 60.78 M724.81 46.20 L724.81 73.20 L748.33 73.20 L748.33 46.20 M782.16 46.20 L759.16 46.20 L759.16 73.20 L782.16 73.20 M792.99 46.20 L815.99 46.20 M804.49 46.20 L804.49 73.20 M826.81 46.20 L826.81 73.20 L850.33 73.20 L850.33 46.20 M861.16 73.20 L861.16 46.20 L884.68 46.20 L884.68 60.78 L871.75 60.78 L884.68 73.20 M871.75 60.78 L861.16 60.78 M916.42 46.20 L895.51 46.20 L895.51 73.20 L916.42 73.20 M895.51 59.70 L913.28 59.70" stroke-width="7.4" clip-path="url(#tc17)"/><path d="M52.40 126.30 L52.40 99.30 L76.35 126.30 L76.35 99.30 M108.67 99.30 L87.38 99.30 L87.38 126.30 L108.67 126.30 M87.38 112.80 L105.48 112.80 M119.69 99.30 L143.12 99.30 M131.41 99.30 L131.41 126.30 M154.14 99.30 L154.14 126.30 L167.98 112.80 L181.82 126.30 L181.82 99.30 M192.85 99.30 L216.80 99.30 L216.80 126.30 L192.85 126.30 L192.85 99.30 M227.83 126.30 L227.83 99.30 L251.78 99.30 L251.78 113.88 L238.61 113.88 L251.78 126.30 M238.61 113.88 L227.83 113.88 M262.81 99.30 L262.81 126.30 M286.76 99.30 L272.87 112.80 L286.76 126.30 M262.81 112.80 L272.87 112.80 M322.12 98.49 L317.62 102.00 L315.20 107.94 L315.20 118.74 L317.62 125.49 L322.12 129.54 M357.10 99.30 L333.14 99.30 L333.14 112.80 L357.10 112.80 L357.10 126.30 L333.14 126.30 M368.12 125.49 L368.12 126.30 M379.15 99.30 L379.15 126.30 M390.17 125.49 L390.17 126.30 M401.20 126.30 L401.20 99.30 L425.15 126.30 L425.15 99.30 M436.18 125.49 L436.18 126.30 M447.20 98.49 L451.70 102.00 L454.12 107.94 L454.12 118.74 L451.70 125.49 L447.20 129.54 M482.56 114.15 L487.88 114.15 M540.28 99.30 L516.32 99.30 L516.32 112.80 L540.28 112.80 L540.28 126.30 L516.32 126.30 M572.59 99.30 L551.30 99.30 L551.30 126.30 L572.59 126.30 M551.30 112.80 L569.40 112.80 M607.04 99.30 L583.62 99.30 L583.62 126.30 L607.04 126.30 M618.07 99.30 L641.49 99.30 M629.78 99.30 L629.78 126.30 M652.51 99.30 L676.47 99.30 L676.47 126.30 L652.51 126.30 L652.51 99.30 M687.49 126.30 L687.49 99.30 L711.45 99.30 L711.45 113.88 L698.27 113.88 L711.45 126.30 M698.27 113.88 L687.49 113.88 M739.89 99.30 L763.84 99.30 L763.84 126.30 L739.89 126.30 L739.89 99.30 M760.97 102.54 L742.76 123.06 M793.97 126.30 L793.97 99.30 L774.87 117.12 L799.35 117.12" stroke-width="7.4" clip-path="url(#tc18)"/></g>
<rect width="1920" height="1071" fill="url(#scan)" opacity="0.18"/>
</svg>
</body></html>
